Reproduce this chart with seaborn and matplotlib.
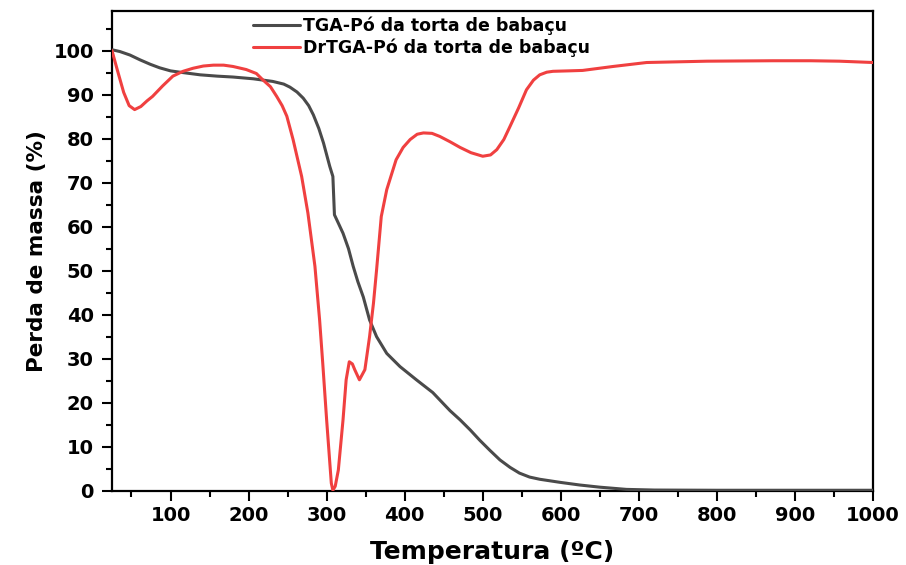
import numpy as np
import pandas as pd
import matplotlib
matplotlib.use('Agg')
import matplotlib.pyplot as plt
import seaborn as sns
from matplotlib.ticker import MultipleLocator

# TGA curve (dark grey)
temp_tga = [25, 35, 48, 61, 74, 86, 100, 112, 125, 138,
            160, 180, 206, 231, 245, 253, 262, 270, 277, 283,
            290, 296, 304, 308, 310, 315, 321, 328, 334, 340,
            347, 355, 364, 377, 394, 415, 436, 458, 471, 484,
            496, 509, 522, 535, 547, 560, 573, 599, 624, 650,
            684, 720, 800, 900, 1000]
mass_tga = [100.2, 99.8, 99.0, 97.9, 96.9, 96.1, 95.4, 95.1, 94.8, 94.5,
            94.2, 94.0, 93.6, 93.0, 92.4, 91.7, 90.6, 89.2, 87.5, 85.4,
            82.3, 79.0, 73.7, 71.4, 62.7, 60.8, 58.5, 55.0, 51.0, 47.5,
            44.0, 38.8, 35.0, 31.2, 28.2, 25.2, 22.3, 18.2, 16.1, 13.8,
            11.5, 9.2, 7.0, 5.3, 4.0, 3.1, 2.6, 1.9, 1.3, 0.8,
            0.3, 0.15, 0.1, 0.1, 0.1]

# DrTGA curve (red)
temp_dtg = [25, 32, 40, 47, 54, 62, 70, 77, 90, 103,
            116, 129, 142, 155, 168, 180, 197, 210, 218, 228,
            236, 243, 249, 257, 268, 276, 285, 291, 295, 300,
            306, 308, 311, 315, 321, 325, 329, 333, 336, 342,
            349, 355, 360, 364, 370, 377, 389, 398, 407, 416,
            424, 435, 445, 458, 471, 485, 500, 510, 518, 527,
            535, 546, 556, 565, 573, 582, 590, 610, 628, 667,
            710, 787, 872, 920, 957, 1000]
mass_dtg = [100, 95.5, 90.5, 87.5, 86.6, 87.3, 88.6, 89.6, 92.0, 94.2,
            95.3, 96.0, 96.5, 96.7, 96.7, 96.4, 95.7, 94.8, 93.4, 91.8,
            89.6, 87.5, 85.1, 79.8, 71.4, 63.1, 51.0, 38.8, 29.0, 16.1,
            1.7, 0.1, 1.0, 4.7, 16.1, 25.2, 29.3, 28.8, 27.5, 25.2,
            27.5, 35.0, 42.6, 50.2, 62.3, 68.4, 75.2, 78.0, 79.8, 81.0,
            81.3, 81.2, 80.5, 79.3, 78.0, 76.8, 76.0, 76.3, 77.5, 79.8,
            82.8, 87.0, 91.1, 93.3, 94.5, 95.1, 95.3, 95.4, 95.5, 96.4,
            97.3, 97.6, 97.7, 97.7, 97.6, 97.3]

label_tga = 'TGA-Pó da torta de babaçu'
label_dtg = 'DrTGA-Pó da torta de babaçu'

sns.set_style('ticks')
plt.rcParams['font.family'] = ['DejaVu Sans']
plt.rcParams['font.weight'] = 'bold'
plt.rcParams['text.color'] = 'black'
plt.rcParams['axes.labelcolor'] = 'black'
plt.rcParams['xtick.color'] = 'black'
plt.rcParams['ytick.color'] = 'black'

fig = plt.figure(figsize=(9.06, 5.65), dpi=100)
ax = fig.add_axes([0.1236, 0.1315, 0.8400, 0.8490])

sns.lineplot(x=temp_tga, y=mass_tga, sort=False, estimator=None, color='#4a4a4a',
             linewidth=2.2, label=label_tga, ax=ax, zorder=3)
sns.lineplot(x=temp_dtg, y=mass_dtg, sort=False, estimator=None, color='#f04040',
             linewidth=2.2, label=label_dtg, ax=ax, zorder=3)

ax.set_xlim(25, 1000)
ax.set_ylim(0, 109)
ax.xaxis.set_major_locator(MultipleLocator(100))
ax.xaxis.set_minor_locator(MultipleLocator(50))
ax.yaxis.set_major_locator(MultipleLocator(10))
ax.yaxis.set_minor_locator(MultipleLocator(5))
ax.set_xticks(range(100, 1001, 100))

for s in ax.spines.values():
    s.set_linewidth(1.6)
    s.set_color('black')

ax.tick_params(axis='both', which='major', direction='out', length=7, width=1.5,
               labelsize=14, colors='black')
ax.tick_params(axis='both', which='minor', direction='out', length=4, width=1.5)
ax.tick_params(axis='x', which='major', pad=4)
ax.tick_params(axis='y', which='major', pad=6)
for lab in ax.get_xticklabels() + ax.get_yticklabels():
    lab.set_fontweight('bold')

ax.set_xlabel('Temperatura (ºC)', fontsize=18, fontweight='bold', labelpad=11)
ax.set_ylabel('Perda de massa (%)', fontsize=15.5, fontweight='bold', labelpad=5)

leg = ax.legend(loc='upper left', bbox_to_anchor=(0.185, 0.988), frameon=False,
                fontsize=12.5, handlelength=2.7, handletextpad=0.2, labelspacing=0.2,
                borderpad=0, borderaxespad=0)
for t in leg.get_texts():
    t.set_fontweight('bold')
    t.set_color('black')

fig.savefig('out.png', dpi=100)
